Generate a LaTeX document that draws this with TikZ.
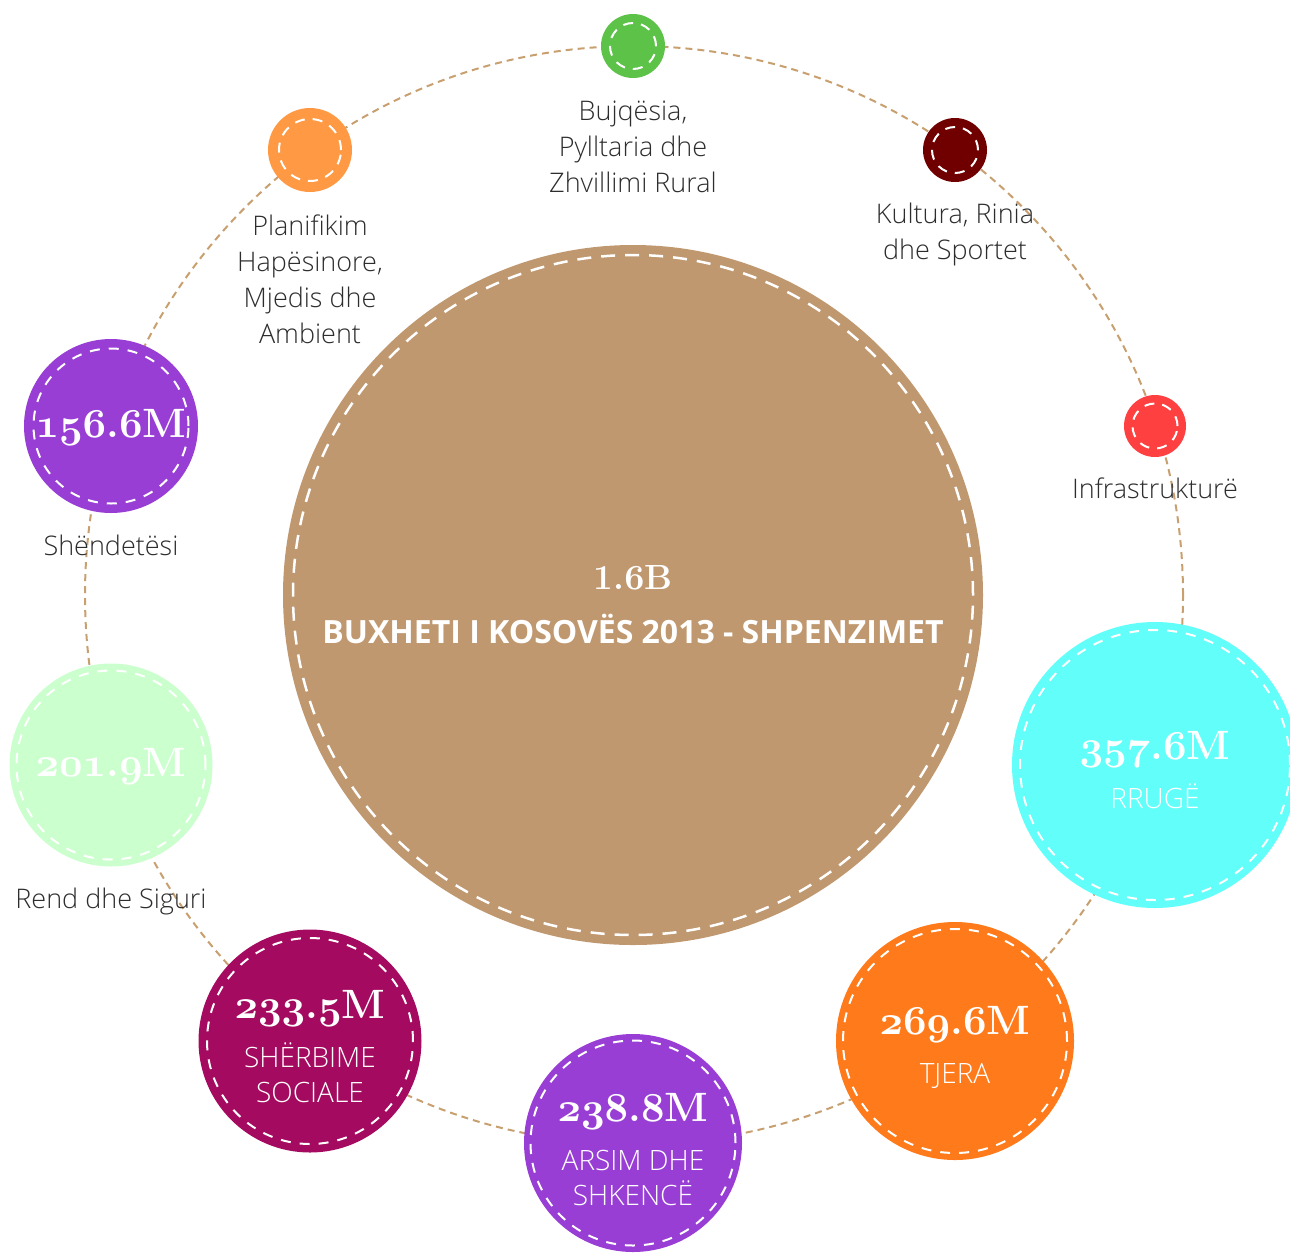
\documentclass[tikz,border=0pt]{standalone}
\usepackage{fontspec}
\newfontfamily\osans{Open Sans}
\newfontfamily\olight{Open Sans Light}
\DeclareFontFamily{OML}{mydig}{}
\DeclareFontShape{OML}{mydig}{m}{it}{<-> cmmi10}{}
\DeclareFontShape{OML}{mydig}{b}{it}{<-> cmmib10}{}
\newcommand\osn[1]{{\fontencoding{OML}\fontfamily{mydig}\fontseries{b}\fontshape{it}\selectfont#1}}
\definecolor{ringc}{RGB}{200,160,112}
\definecolor{bigc}{RGB}{192,152,112}
\definecolor{cgreen}{RGB}{92,194,72}
\definecolor{corange}{RGB}{255,153,68}
\definecolor{cdred}{RGB}{112,0,0}
\definecolor{cred}{RGB}{255,64,64}
\definecolor{cpurple}{RGB}{152,62,212}
\definecolor{clgreen}{RGB}{204,255,206}
\definecolor{cmag}{RGB}{163,10,96}
\definecolor{ctjera}{RGB}{255,122,26}
\definecolor{ccyan}{RGB}{98,255,250}
\definecolor{lblc}{RGB}{45,45,45}
\tikzset{
  ringline/.style={draw=ringc, line width=2pt, dash pattern=on 7pt off 5pt},
  dot/.style={circle, inner sep=0pt, draw=none},
  stitch/.style={draw=white, line width=2pt, dash pattern=on 10pt off 9pt},
  smallstitch/.style={draw=white, line width=2pt, dash pattern=on 10pt off 8pt},
  bigstitch/.style={draw=white, line width=2.5pt, dash pattern=on 14pt off 10pt},
  lbl/.style={font=\olight\fontsize{27}{36}\selectfont, text=lblc, align=center, inner sep=0pt},
  num/.style={font=\bfseries\fontsize{41}{41}\selectfont, text=white, inner sep=0pt},
  sub/.style={font=\olight\fontsize{28}{35}\selectfont, text=white, align=center, inner sep=0pt},
}
\begin{document}
\begin{tikzpicture}[x=1pt,y=-1pt]
\useasboundingbox (0,0) rectangle (1290,1254);
% ring
\coordinate (ringc) at (634,595);
\draw[ringline] (ringc) circle[radius=549pt];
% big circle
\node[dot, fill=bigc, minimum size=700pt] (big) at (633,595) {};
\draw[bigstitch] (big.center) circle[radius=340pt];
\node[num, font=\bfseries\fontsize{35}{35}\selectfont] (bignum) at (633,577) {1.\osn{6}B};
\node[inner sep=0pt, font=\osans\bfseries\fontsize{32}{32}\selectfont, text=white] (title) at (633,629) {BUXHETI I KOSOVËS 2013 - SHPENZIMET};
% small circles
\node[dot, fill=cgreen, minimum size=64pt] (agri) at (633,46) {};
\draw[smallstitch] (agri.center) circle[radius=23pt];
\node[lbl] (agril) at (633,147) {Bujqësia,\\Pylltaria dhe\\Zhvillimi Rural};

\node[dot, fill=corange, minimum size=84pt] (plan) at (310,150) {};
\draw[smallstitch] (plan.center) circle[radius=31pt];
\node[lbl] (planl) at (310,279) {Planifikim\\Hapësinore,\\Mjedis dhe\\Ambient};

\node[dot, fill=cdred, minimum size=64pt] (kult) at (955,150) {};
\draw[smallstitch] (kult.center) circle[radius=23pt];
\node[lbl] (kultl) at (955,234) {Kultura, Rinia\\dhe Sportet};

\node[dot, fill=cred, minimum size=62pt] (infra) at (1155,426) {};
\draw[smallstitch] (infra.center) circle[radius=22.5pt];
\node[lbl] (infral) at (1155,488) {Infrastrukturë};

% value circles
\node[dot, fill=cpurple, minimum size=174pt] (shen) at (111,426) {};
\draw[stitch] (shen.center) circle[radius=77.5pt];
\node[num] (shenn) at (111,427) {\osn{156}.\osn{6}M};
\node[lbl] (shenl) at (111,545) {Shëndetësi};

\node[dot, fill=clgreen, minimum size=203pt] (rend) at (111,765) {};
\draw[stitch] (rend.center) circle[radius=94.5pt];
\node[num] (rendn) at (111,766) {\osn{201}.\osn{9}M};
\node[lbl] (rendl) at (111,901) {Rend dhe Siguri};

\node[dot, fill=cmag, minimum size=223pt] (sherb) at (310,1041) {};
\draw[stitch] (sherb.center) circle[radius=103pt];
\node[num] (sherbn) at (310,1008) {\osn{233}.\osn{5}M};
\node[sub] (sherbl) at (310,1073) {SHËRBIME\\SOCIALE};

\node[dot, fill=cpurple, minimum size=218pt] (arsim) at (633,1143) {};
\draw[stitch] (arsim.center) circle[radius=102.5pt];
\node[num] (arsimn) at (633,1111) {\osn{238}.\osn{8}M};
\node[sub] (arsiml) at (633,1178) {ARSIM DHE\\SHKENCË};

\node[dot, fill=ctjera, minimum size=238pt] (tjera) at (955,1041) {};
\draw[stitch] (tjera.center) circle[radius=112pt];
\node[num] (tjeran) at (955,1024) {\osn{269}.\osn{6}M};
\node[sub] (tjeral) at (955,1076) {TJERA};

\node[dot, fill=ccyan, minimum size=286pt] (rruge) at (1155,765) {};
\draw[stitch] (rruge.center) circle[radius=135pt];
\node[num] (rrugen) at (1155,749) {\osn{357}.\osn{6}M};
\node[sub] (rrugel) at (1155,796) {RRUGË};
\end{tikzpicture}
\end{document}
